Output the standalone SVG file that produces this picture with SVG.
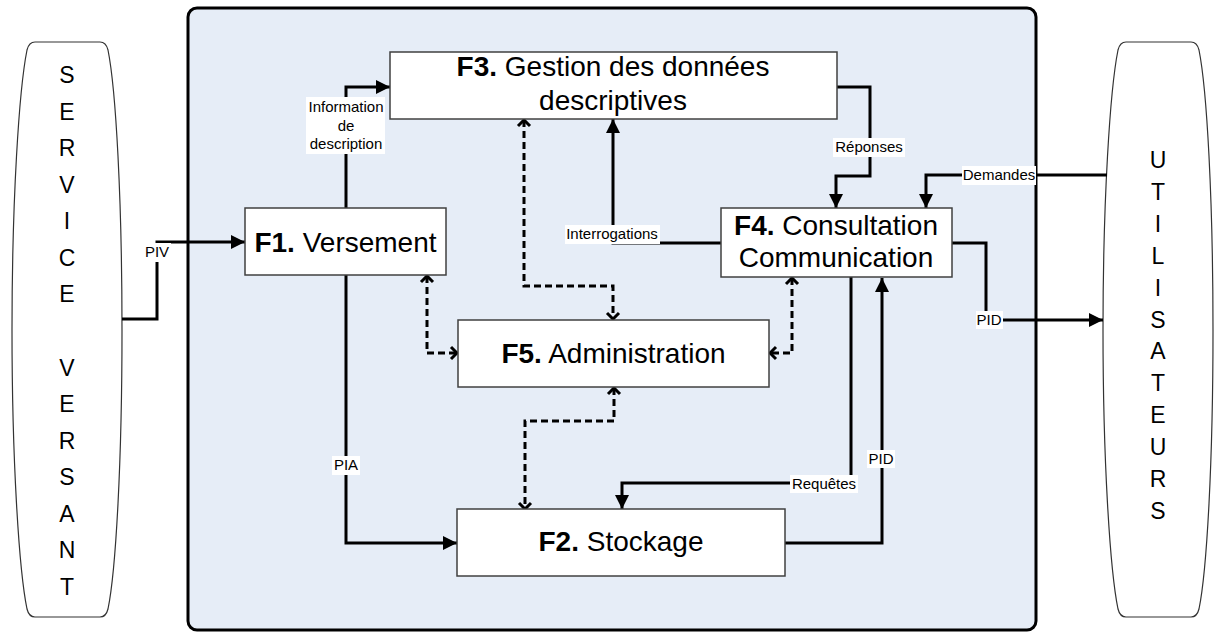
<svg xmlns="http://www.w3.org/2000/svg" width="1215" height="633" viewBox="0 0 1215 633">
<style>
.box{fill:#fff;stroke:#404040;stroke-width:1.5}
.pill{fill:#fff;stroke:#333;stroke-width:1.2}
.t{font-family:"Liberation Sans",Arial,sans-serif;font-size:28px;fill:#000;text-anchor:middle}
.b{font-weight:bold}
.lt{font-family:"Liberation Sans",Arial,sans-serif;font-size:23px;fill:#000;text-anchor:middle}
.lab{font-family:"Liberation Sans",Arial,sans-serif;font-size:15px;fill:#000;text-anchor:middle}
.lbg{fill:#fff;stroke:none}
.c{fill:none;stroke:#000;stroke-width:3}
.d{fill:none;stroke:#000;stroke-width:3;stroke-dasharray:7 4}
</style>
<defs>
<marker id="arr" viewBox="0 0 14 14" refX="14" refY="7" markerWidth="14" markerHeight="14" markerUnits="userSpaceOnUse" orient="auto"><path d="M0,0 L14,7 L0,14 z" fill="#000"/></marker>
<marker id="chev" viewBox="-9 -9 11 18" refX="0" refY="0" markerWidth="11" markerHeight="18" markerUnits="userSpaceOnUse" orient="auto-start-reverse"><path d="M-6,-6 L0,0 L-6,6" fill="none" stroke="#000" stroke-width="3"/></marker>
</defs>
<rect x="188" y="8" width="848" height="622" rx="9" fill="#e6edf7" stroke="#000" stroke-width="3"/>
<g id="service-versant">
<path class="pill" d="M35,42 H100 Q106,42 108,50 C116,90 122,200 122,330 C122,460 116,570 108,609 Q106,617 100,617 H35 Q29,617 27,609 C19,570 12,460 12,330 C12,200 19,90 27,50 Q29,42 35,42 Z"/>
<text class="lt"><tspan x="67" y="83">S</tspan><tspan x="67" y="120">E</tspan><tspan x="67" y="156">R</tspan><tspan x="67" y="193">V</tspan><tspan x="67" y="229">I</tspan><tspan x="67" y="266">C</tspan><tspan x="67" y="302">E</tspan><tspan x="67" y="376">V</tspan><tspan x="67" y="412">E</tspan><tspan x="67" y="449">R</tspan><tspan x="67" y="485">S</tspan><tspan x="67" y="522">A</tspan><tspan x="67" y="558">N</tspan><tspan x="67" y="595">T</tspan></text>
</g>
<g id="utilisateurs">
<path class="pill" d="M1126,42 H1191 Q1197,42 1199,50 C1207,90 1213,200 1213,330 C1213,460 1207,570 1199,609 Q1197,617 1191,617 H1126 Q1120,617 1118,609 C1110,570 1103,460 1103,330 C1103,200 1110,90 1118,50 Q1120,42 1126,42 Z"/>
<text class="lt"><tspan x="1158" y="168">U</tspan><tspan x="1158" y="200">T</tspan><tspan x="1158" y="232">I</tspan><tspan x="1158" y="264">L</tspan><tspan x="1158" y="296">I</tspan><tspan x="1158" y="328">S</tspan><tspan x="1158" y="359">A</tspan><tspan x="1158" y="391">T</tspan><tspan x="1158" y="423">E</tspan><tspan x="1158" y="455">U</tspan><tspan x="1158" y="487">R</tspan><tspan x="1158" y="519">S</tspan></text>
</g>
<g id="connectors">
<path class="c" d="M122,319 H157 V242 H245" marker-end="url(#arr)"/>
<path class="c" d="M346,208 V87 H390" marker-end="url(#arr)"/>
<path class="c" d="M346,275 V543 H457" marker-end="url(#arr)"/>
<path class="c" d="M721,243 H613 V119" marker-end="url(#arr)"/>
<path class="c" d="M837,87 H870 V176 H836 V208" marker-end="url(#arr)"/>
<path class="c" d="M1107,175 H926 V208" marker-end="url(#arr)"/>
<path class="c" d="M952,243 H986 V320 H1103" marker-end="url(#arr)"/>
<path class="c" d="M851,277 V483 H622 V509" marker-end="url(#arr)"/>
<path class="c" d="M785,543 H882 V278" marker-end="url(#arr)"/>
<path class="d" d="M427,276 V353 H457" marker-start="url(#chev)" marker-end="url(#chev)"/>
<path class="d" d="M524,120 V286 H613 V319" marker-start="url(#chev)" marker-end="url(#chev)"/>
<path class="d" d="M792,278 V353 H770" marker-start="url(#chev)" marker-end="url(#chev)"/>
<path class="d" d="M614,388 V421 H525 V509" marker-start="url(#chev)" marker-end="url(#chev)"/>
<rect class="lbg" x="143" y="243" width="28" height="19"/><text class="lab" x="157" y="257">PIV</text>
<rect class="lbg" x="306" y="97" width="79" height="57"/><text class="lab"><tspan x="346" y="112">Information</tspan><tspan x="346" y="131">de</tspan><tspan x="346" y="149">description</tspan></text>
<rect class="lbg" x="332" y="456" width="28" height="19"/><text class="lab" x="346" y="470">PIA</text>
<rect class="lbg" x="565" y="225" width="95" height="19"/><text class="lab" x="612" y="239">Interrogations</text>
<rect class="lbg" x="833" y="138" width="72" height="19"/><text class="lab" x="869" y="152">Réponses</text>
<rect class="lbg" x="962" y="166" width="74" height="19"/><text class="lab" x="999" y="180">Demandes</text>
<rect class="lbg" x="976" y="311" width="27" height="18"/><text class="lab" x="989" y="325">PID</text>
<rect class="lbg" x="790" y="475" width="68" height="18"/><text class="lab" x="824" y="489">Requêtes</text>
<rect class="lbg" x="867" y="450" width="28" height="18"/><text class="lab" x="881" y="464">PID</text>
</g>
<g id="f1"><rect class="box" x="245" y="208" width="201" height="67"/><text class="t" x="345.5" y="252"><tspan class="b">F1.</tspan> Versement</text></g>
<g id="f3"><rect class="box" x="390" y="52" width="447" height="67"/><text class="t"><tspan x="613" y="76"><tspan class="b">F3.</tspan> Gestion des données</tspan><tspan x="613" y="110">descriptives</tspan></text></g>
<g id="f4"><rect class="box" x="721" y="208" width="231" height="69"/><text class="t"><tspan x="836" y="235"><tspan class="b">F4.</tspan> Consultation</tspan><tspan x="836" y="267">Communication</tspan></text></g>
<g id="f5"><rect class="box" x="458" y="320" width="311" height="67"/><text class="t" x="613.5" y="363"><tspan class="b">F5.</tspan> Administration</text></g>
<g id="f2"><rect class="box" x="457" y="509" width="328" height="67"/><text class="t" x="621" y="551"><tspan class="b">F2.</tspan> Stockage</text></g>
</svg>
